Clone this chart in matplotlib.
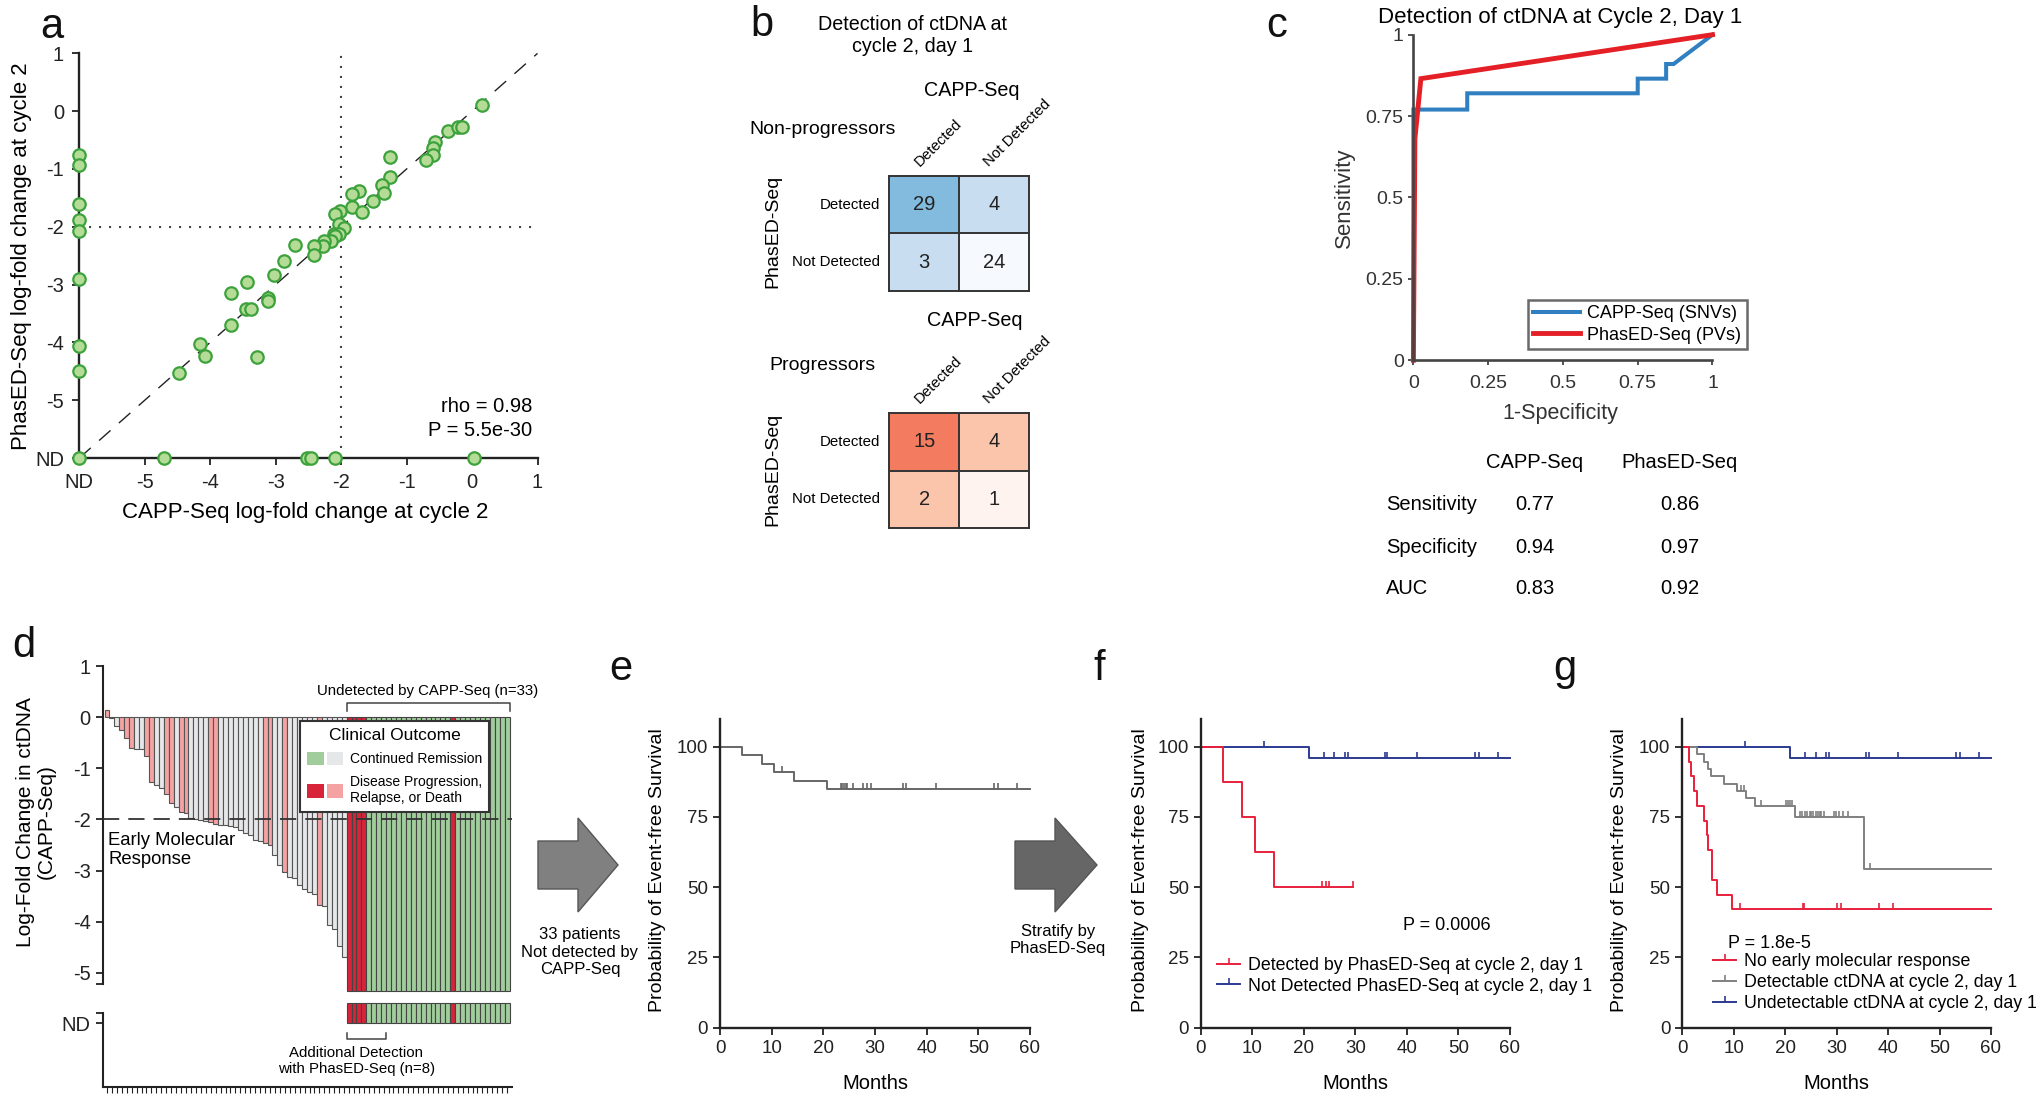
import numpy as np
import matplotlib
matplotlib.use('Agg')
import matplotlib.pyplot as plt
from matplotlib.colors import to_rgb
from matplotlib.lines import Line2D
from matplotlib.patches import Patch, Polygon
from matplotlib.legend_handler import HandlerTuple
from matplotlib.markers import TICKUP

plt.rcParams['font.family'] = ['Liberation Sans', 'DejaVu Sans']
plt.rcParams['axes.edgecolor'] = '#222222'
plt.rcParams['xtick.color'] = '#222222'
plt.rcParams['ytick.color'] = '#222222'

nan = np.nan
# ---------------- data: panel a ----------------
a_capp = [0.15, -0.37, -0.22, -0.16, -0.57, -0.60, -0.60, -0.71, -1.25, -1.25,
          -1.38, -1.34, -1.51, -1.72, -1.84, -1.84, -1.68, -2.01, -2.09, -2.04,
          -1.96, -2.11, -2.03, -2.10, -2.15, -2.26, -2.28, -2.42, -2.42, -2.70,
          -2.87, -3.03, -3.11, -3.11, -3.44, -3.69, -3.45, -3.37, -3.68, -3.28,
          -4.16, -4.08, -4.48,
          nan, nan, nan, nan, nan, nan, nan, nan,
          -4.71, -2.52, -2.46, -2.10, 0.03,
          nan]
a_phased = [0.10, -0.35, -0.27, -0.27, -0.54, -0.63, -0.75, -0.85, -0.80, -1.14,
            -1.28, -1.42, -1.55, -1.38, -1.43, -1.65, -1.74, -1.73, -1.77, -1.96,
            -2.02, -2.12, -2.13, -2.16, -2.24, -2.25, -2.33, -2.33, -2.49, -2.31,
            -2.60, -2.84, -3.24, -3.28, -2.96, -3.15, -3.42, -3.42, -3.70, -4.26,
            -4.03, -4.24, -4.53,
            -0.75, -0.93, -1.61, -1.88, -2.08, -2.91, -4.07, -4.50,
            nan, nan, nan, nan, nan,
            nan]
a_ticklabels = ['ND', '-5', '-4', '-3', '-2', '-1', '0', '1']
a_rho_text = 'rho = 0.98'
a_p_text = 'P = 5.5e-30'

# ---------------- data: panel b ----------------
b_labels = ['Detected', 'Not Detected']
b_nonprog = [[29, 4], [3, 24]]
b_prog = [[15, 4], [2, 1]]

# ---------------- data: panel c ----------------
c_capp_fpr = [0, 0, 0.18, 0.18, 0.75, 0.75, 0.845, 0.845, 0.87, 1.0]
c_capp_tpr = [0, 0.77, 0.77, 0.82, 0.82, 0.865, 0.865, 0.91, 0.91, 1.0]
c_phased_fpr = [0, 0.005, 0.025, 1.0]
c_phased_tpr = [0, 0.68, 0.865, 1.0]
c_rows = ['Sensitivity', 'Specificity', 'AUC']
c_capp_stats = [0.77, 0.94, 0.83]
c_phased_stats = [0.86, 0.97, 0.92]

# ---------------- data: panel d ----------------
d_capp_logfc = [0.14, -0.02, -0.18, -0.25, -0.40, -0.60, -0.62, -0.63, -0.75, -1.27,
                -1.33, -1.39, -1.50, -1.68, -1.75, -1.85, -1.87, -1.98, -2.00, -2.02,
                -2.04, -2.06, -2.09, -2.10, -2.11, -2.12, -2.14, -2.20, -2.26, -2.30,
                -2.40, -2.42, -2.46, -2.50, -2.70, -2.90, -3.03, -3.12, -3.14, -3.28,
                -3.36, -3.42, -3.46, -3.68, -3.70, -4.07, -4.15, -4.47, -4.70]
d_det_event = [1, 0, 0, 1, 1, 1, 0, 0, 1, 1,
               0, 0, 1, 1, 0, 1, 1, 0, 0, 0,
               0, 1, 1, 0, 0, 0, 0, 0, 0, 0,
               0, 0, 1, 1, 0, 0, 1, 0, 0, 0,
               0, 0, 0, 1, 0, 0, 0, 0, 0]
d_und_event = [1, 1, 1, 1] + [0] * 17 + [1] + [0] * 11
d_n_additional = 8
d_threshold = -2

# ---------------- data: KM panels ----------------
e_times = [0, 4.2, 8.1, 10.5, 14.3, 20.8]
e_surv = [100, 96.97, 93.94, 90.91, 87.88, 84.85]
e_cens = [12.0, 23.4, 23.7, 24.0, 24.3, 24.6, 25.7, 27.7, 28.4, 29.2, 35.5, 36.0,
          41.8, 53.0, 53.9, 57.5]

f_red_times = [0, 4.25, 8.1, 10.5, 14.3]
f_red_surv = [100, 87.5, 75, 62.5, 50]
f_red_end = 29.5
f_red_cens = [23.6, 24.3, 24.8, 29.5]
blue_times = [0, 21.0]
blue_surv = [100, 96.0]
blue_cens = [12.2, 23.9, 25.9, 27.9, 28.5, 35.7, 36.2, 42.0, 53.2, 54.0, 57.7]

g_red_times = [0, 1.35, 1.6, 2.3, 2.8, 4.3, 4.75, 4.9, 5.85, 6.7, 9.6]
g_red_surv = [100, 94.7, 89.5, 84.2, 78.9, 73.7, 68.4, 63.2, 52.6, 47.4, 42.1]
g_red_cens = [11.3, 23.5, 23.7, 30.0, 30.8, 38.2, 40.9]
g_gray_times = [0, 2.8, 4.3, 5.05, 5.5, 8.1, 10.6, 12.3, 14.1, 21.9, 35.3]
g_gray_surv = [100, 97.4, 94.7, 92.1, 89.5, 86.8, 84.2, 81.6, 78.9, 75.1, 56.3]
g_gray_cens = [11.5, 12.0, 15.2, 20.1, 20.5, 20.9, 21.4, 22.8, 23.3, 23.8, 24.3,
               24.8, 25.1, 25.5, 26.0, 26.4, 26.7, 27.0, 27.5, 29.4, 29.9, 30.4,
               31.2, 32.3, 36.4]
km_end = 60

# ---------------- figure helpers ----------------
W, H = 2040, 1097
fig = plt.figure(figsize=(W / 100, H / 100), dpi=100)


def rect(x0, y0, x1, y1):
    return [x0 / W, 1 - y1 / H, (x1 - x0) / W, (y1 - y0) / H]


def ftext(x, y, s, **kw):
    return fig.text(x / W, 1 - y / H, s, **kw)


def lr_spines(ax, lw=1.5):
    for s in ['top', 'right']:
        ax.spines[s].set_visible(False)
    for s in ['left', 'bottom']:
        ax.spines[s].set_linewidth(lw)


def center_labels(ax, xl, yl):
    ax.xaxis.set_label_coords(*xl)
    ax.yaxis.set_label_coords(*yl)
    ax.xaxis.label.set_va('center')
    ax.yaxis.label.set_va('center')


# panel letters
for lab, x, y in [('a', 40, 38), ('b', 750, 36), ('c', 1266, 37), ('d', 12, 657),
                  ('e', 609, 680), ('f', 1093, 680), ('g', 1553, 680)]:
    ftext(x, y, lab, fontsize=30, va='baseline', ha='left', color='#111')

# ================= panel a =================
ND = -6
axa = fig.add_axes(rect(79.3, 53.4, 537.5, 458))
xa = np.where(np.isnan(a_capp), ND, a_capp)
ya = np.where(np.isnan(a_phased), ND, a_phased)
axa.axline((0, 0), slope=1, color='#222', lw=1.0, dashes=(11, 8), zorder=1)
axa.axvline(d_threshold, color='#444', lw=1.5, ls=(0, (1, 3.8)), zorder=1)
axa.axhline(d_threshold, color='#444', lw=1.5, ls=(0, (1, 3.8)), zorder=1)
axa.scatter(xa, ya, s=80, facecolor='#b5dc97', edgecolor='#3ca23c', lw=1.6,
            zorder=3, clip_on=False)
axa.set_xlim(ND, 1)
axa.set_ylim(ND, 1)
ticks = np.arange(ND, 2)
axa.set_xticks(ticks)
axa.set_xticklabels(a_ticklabels)
axa.set_yticks(ticks)
axa.set_yticklabels(a_ticklabels)
lr_spines(axa, 1.7)
axa.tick_params(labelsize=14.5, length=5, width=1.3, direction='out', pad=6)
axa.set_xlabel('CAPP-Seq log-fold change at cycle 2', fontsize=16)
axa.set_ylabel('PhasED-Seq log-fold change at cycle 2', fontsize=16)
center_labels(axa, (0.493, -0.134), (-0.126, 0.50))
ftext(532, 406, a_rho_text, ha='right', va='center', fontsize=14.5)
ftext(532, 430, a_p_text, ha='right', va='center', fontsize=14.5)

# ================= panel b =================
blue_cols = [['#82bbdd', '#c8ddf0'], ['#c8ddf0', '#f6fafe']]
red_cols = [['#f37c60', '#fbc5ac'], ['#fbc5ac', '#fef3ee']]


def heat(r, counts, cols):
    ax = fig.add_axes(r)
    rgb = np.array([[to_rgb(c) for c in row] for row in cols])
    ax.imshow(rgb, aspect='auto', extent=(-0.5, 1.5, 1.5, -0.5))
    for i in range(2):
        for j in range(2):
            ax.text(j, i, str(counts[i][j]), ha='center', va='center',
                    fontsize=14.5, color='#222')
    ax.axhline(0.5, color='#333', lw=1.4)
    ax.axvline(0.5, color='#333', lw=1.4)
    for s in ax.spines.values():
        s.set_color('#333')
        s.set_linewidth(1.4)
    ax.set_xticks([])
    ax.set_yticks([])
    for j, lab in enumerate(b_labels):
        ax.text(j - 0.07, -0.655, lab, rotation=45, rotation_mode='anchor',
                ha='left', va='baseline', fontsize=10.8, clip_on=False)
    for i, lab in enumerate(b_labels):
        ax.text(-0.633, i, lab, ha='right', va='center', fontsize=10.8, clip_on=False)
    return ax


heat(rect(889.3, 175.9, 1029.3, 290.7), b_nonprog, blue_cols)
heat(rect(889.3, 412.8, 1029.3, 528.3), b_prog, red_cols)
ftext(913, 36, 'Detection of ctDNA at\ncycle 2, day 1', ha='center', va='center',
      fontsize=14.2, linespacing=1.2)
ftext(972, 90, 'CAPP-Seq', ha='center', va='center', fontsize=14.2)
ftext(823, 129, 'Non-progressors', ha='center', va='center', fontsize=14)
ftext(773, 231, 'PhasED-Seq', ha='center', va='center', fontsize=14, rotation=90)
ftext(975, 321, 'CAPP-Seq', ha='center', va='center', fontsize=14.2)
ftext(822, 365, 'Progressors', ha='center', va='center', fontsize=14)
ftext(773, 469, 'PhasED-Seq', ha='center', va='center', fontsize=14, rotation=90)

# ================= panel c =================
axc = fig.add_axes(rect(1413.4, 34.7, 1712.5, 360.2))
axc.plot(c_capp_fpr, c_capp_tpr, color='#2f7fc1', lw=2.9, clip_on=False,
         label='CAPP-Seq (SNVs)', solid_joinstyle='miter')
axc.plot(c_phased_fpr, c_phased_tpr, color='#e41f26', lw=3.5, clip_on=False,
         label='PhasED-Seq (PVs)', solid_joinstyle='miter')
axc.set_xlim(0, 1)
axc.set_ylim(0, 1)
cticks = [0, 0.25, 0.5, 0.75, 1]
clabs = ['0', '0.25', '0.5', '0.75', '1']
axc.set_xticks(cticks)
axc.set_xticklabels(clabs)
axc.set_yticks(cticks)
axc.set_yticklabels(clabs)
lr_spines(axc, 1.9)
axc.spines['left'].set_color('#444')
axc.spines['bottom'].set_color('#444')
axc.tick_params(labelsize=14, length=3.5, width=1.2, direction='out', colors='#333')
axc.tick_params(axis='x', pad=7)
axc.set_xlabel('1-Specificity', fontsize=15.5, color='#333')
axc.set_ylabel('Sensitivity', fontsize=16, color='#333')
center_labels(axc, (0.49, -0.163), (-0.23, 0.5))
legc = axc.legend(loc='lower left', bbox_to_anchor=(0.382, 0.034), borderaxespad=0,
                  fontsize=13, frameon=True, fancybox=False, edgecolor='#444',
                  handlelength=2.6, handletextpad=0.4, borderpad=0.3,
                  labelspacing=0.25)
legc.get_frame().set_linewidth(1.8)
ftext(1560, 17, 'Detection of ctDNA at Cycle 2, Day 1', ha='center', va='center',
      fontsize=16)
ftext(1535, 462, 'CAPP-Seq', ha='center', va='center', fontsize=14.5)
ftext(1680, 462, 'PhasED-Seq', ha='center', va='center', fontsize=14.5)
for k, (lab, v1, v2) in enumerate(zip(c_rows, c_capp_stats, c_phased_stats)):
    yy = 505 + k * 42
    ftext(1386, yy, lab, ha='left', va='center', fontsize=14.5)
    ftext(1535, yy, '%.2f' % v1, ha='center', va='center', fontsize=14.5)
    ftext(1680, yy, '%.2f' % v2, ha='center', va='center', fontsize=14.5)

# ================= panel d =================
col_det_event = '#f5a2a2'
col_det_none = '#e6e7e9'
col_und_event = '#d72438'
col_und_none = '#a0cd9b'
ND_BAR = -5.35
n_det = len(d_capp_logfc)
n_und = len(d_und_event)
n_tot = n_det + n_und
pos_det = np.arange(n_det)
pos_und = np.arange(n_det, n_tot)
XL = (-0.885, 82.07)

axd = fig.add_axes(rect(102.6, 666.2, 512.4, 993.1))
axd.bar(pos_det, d_capp_logfc, width=1.0,
        color=[col_det_event if e else col_det_none for e in d_det_event],
        edgecolor='#555', lw=0.8, zorder=2)
und_cols = [col_und_event if e else col_und_none for e in d_und_event]
axd.bar(pos_und, [ND_BAR] * n_und, width=1.0, color=und_cols,
        edgecolor='#444', lw=0.8, zorder=2)
axd.axhline(d_threshold, color='#333', lw=1.3, dashes=(9, 5), zorder=4)
axd.set_xlim(*XL)
axd.set_ylim(-5.4, 1.0)
for s in ['top', 'right', 'bottom']:
    axd.spines[s].set_visible(False)
axd.spines['left'].set_linewidth(1.5)
axd.spines['left'].set_bounds(-5.23, 1)
axd.set_xticks([])
axd.set_yticks([1, 0, -1, -2, -3, -4, -5, -5.23])
axd.set_yticklabels(['1', '0', '-1', '-2', '-3', '-4', '-5', ''])
axd.tick_params(labelsize=14.5, length=5, width=1.3, direction='out')
bx0, bx1 = n_det - 0.5, n_tot - 0.5
axd.plot([bx0, bx0, bx1, bx1], [0.13, 0.274, 0.274, 0.13], color='#444', lw=1.1,
         clip_on=False)
axd.text((bx0 + bx1) / 2, 0.52, 'Undetected by CAPP-Seq (n=%d)' % n_und,
         ha='center', va='center', fontsize=10.8, clip_on=False)
axd.text(0.3, -2.24, 'Early Molecular\nResponse', ha='left', va='top',
         fontsize=13.3, linespacing=1.15)
hd = [(Patch(fc=col_und_none, ec='none'), Patch(fc=col_det_none, ec='none')),
      (Patch(fc=col_und_event, ec='none'), Patch(fc=col_det_event, ec='none'))]
legd = axd.legend(hd, ['Continued Remission', 'Disease Progression,\nRelapse, or Death'],
                  handler_map={tuple: HandlerTuple(ndivide=None, pad=0.25)},
                  title='Clinical Outcome', title_fontsize=12.5, fontsize=10,
                  loc='upper left', bbox_to_anchor=(300.3 / W, 1 - 720.7 / H),
                  bbox_transform=fig.transFigure, borderaxespad=0,
                  frameon=True, fancybox=False, edgecolor='#333', framealpha=1,
                  handlelength=2.6, handleheight=1.15, handletextpad=0.5,
                  borderpad=0.5, labelspacing=0.65)
legd.get_frame().set_linewidth(1.5)
legd.set_zorder(6)
ftext(36, 822, 'Log-Fold Change in ctDNA\n(CAPP-Seq)', rotation=90, ha='center',
      va='center', fontsize=15, linespacing=1.12)

axd2 = fig.add_axes(rect(102.6, 1000, 512.4, 1087))
ND_LEVEL, ND_TOP = 0.732, 0.962
axd2.bar(pos_und, [ND_TOP - ND_LEVEL] * n_und, bottom=ND_LEVEL, width=1.0,
         color=und_cols, edgecolor='#444', lw=0.8)
axd2.set_xlim(*XL)
axd2.set_ylim(0, 1)
for s in ['top', 'right']:
    axd2.spines[s].set_visible(False)
axd2.spines['left'].set_linewidth(1.5)
axd2.spines['bottom'].set_linewidth(1.5)
axd2.spines['left'].set_bounds(0, 0.854)
axd2.set_yticks([0.854, ND_LEVEL])
axd2.set_yticklabels(['', 'ND'])
axd2.set_xticks(np.arange(n_tot))
axd2.set_xticklabels([])
axd2.tick_params(axis='y', labelsize=14.5, length=5, width=1.3, direction='out')
axd2.tick_params(axis='x', length=4, width=0.8, direction='out')
ax0, ax1 = n_det - 0.5, n_det - 0.5 + d_n_additional
axd2.plot([ax0, ax0, ax1, ax1], [0.62, 0.552, 0.552, 0.62], color='#444', lw=1.1,
          clip_on=False)
axd2.text(50.5, 0.3, 'Additional Detection\nwith PhasED-Seq (n=%d)' % d_n_additional,
          ha='center', va='center', fontsize=10.8, linespacing=1.15, clip_on=False)

# ================= KM panels =================


def km(ax, times, surv, end, cens, color, lw=1.4):
    t = np.r_[times, end]
    s = np.r_[surv, surv[-1]]
    ax.step(t, s, where='post', color=color, lw=lw, clip_on=False)
    idx = np.searchsorted(times, cens, side='right') - 1
    ax.plot(cens, np.asarray(surv)[idx], ls='none', marker=TICKUP, ms=4.5,
            mew=1.2, color=color, clip_on=False)


def km_axes(r, ylab_x):
    ax = fig.add_axes(r)
    ax.set_xlim(0, 60)
    ax.set_ylim(0, 110)
    ax.set_xticks(np.arange(0, 61, 10))
    ax.set_yticks([0, 25, 50, 75, 100])
    lr_spines(ax, 1.7)
    ax.tick_params(labelsize=13.5, length=5, width=1.3, direction='out')
    ax.set_xlabel('Months', fontsize=14.5)
    ax.set_ylabel('Probability of Event-free Survival', fontsize=14)
    center_labels(ax, (0.5, -0.179), (ylab_x, 0.51))
    return ax


C_RED = '#e8203c'
C_BLUE = '#2b3990'
C_GRAY = '#808080'

axe = km_axes(rect(720, 718.6, 1030, 1027.7), -0.2)
km(axe, e_times, e_surv, km_end, e_cens, '#666666')

axf = km_axes(rect(1200.7, 718.6, 1510, 1027.7), -0.196)
km(axf, blue_times, blue_surv, km_end, blue_cens, C_BLUE)
km(axf, f_red_times, f_red_surv, f_red_end, f_red_cens, C_RED)
ftext(1447, 926, 'P = 0.0006', ha='center', va='center', fontsize=13)
hf = [Line2D([], [], color=C_RED, lw=1.4, marker=TICKUP, ms=4.5, mew=1.2),
      Line2D([], [], color=C_BLUE, lw=1.4, marker=TICKUP, ms=4.5, mew=1.2)]
fig.legend(hf, ['Detected by PhasED-Seq at cycle 2, day 1',
                'Not Detected PhasED-Seq at cycle 2, day 1'],
           loc='upper left', bbox_to_anchor=(1217 / W, 1 - 957 / H), borderaxespad=0,
           borderpad=0, frameon=False, fontsize=12.8, handlelength=1.3,
           handletextpad=0.45, labelspacing=0.2, numpoints=1)

axg = km_axes(rect(1682.3, 718.6, 1991, 1027.7), -0.202)
km(axg, blue_times, blue_surv, km_end, blue_cens, C_BLUE)
km(axg, g_gray_times, g_gray_surv, km_end, g_gray_cens, C_GRAY)
km(axg, g_red_times, g_red_surv, km_end, g_red_cens, C_RED)
ftext(1728, 944, 'P = 1.8e-5', ha='left', va='center', fontsize=13)
hg = [Line2D([], [], color=C_RED, lw=1.4, marker=TICKUP, ms=4.5, mew=1.2),
      Line2D([], [], color=C_GRAY, lw=1.4, marker=TICKUP, ms=4.5, mew=1.2),
      Line2D([], [], color=C_BLUE, lw=1.4, marker=TICKUP, ms=4.5, mew=1.2)]
fig.legend(hg, ['No early molecular response',
                'Detectable ctDNA at cycle 2, day 1',
                'Undetectable ctDNA at cycle 2, day 1'],
           loc='upper left', bbox_to_anchor=(1713 / W, 1 - 953 / H), borderaxespad=0,
           borderpad=0, frameon=False, fontsize=12.8, handlelength=1.3,
           handletextpad=0.45, labelspacing=0.22, numpoints=1)

# ================= block arrows =================


def block_arrow(x0, xh, xt, color):
    ys_top, ys_bot, yh_top, yh_bot = 841, 889, 818, 912
    ym = (ys_top + ys_bot) / 2
    pts = [(x0, ys_top), (xh, ys_top), (xh, yh_top), (xt, ym), (xh, yh_bot),
           (xh, ys_bot), (x0, ys_bot)]
    pts = [(x / W, 1 - y / H) for x, y in pts]
    fig.add_artist(Polygon(pts, closed=True, transform=fig.transFigure,
                           facecolor=color, edgecolor='#555', lw=1.0))


block_arrow(538, 578, 618, '#808080')
block_arrow(1015, 1055, 1097, '#666666')
ftext(580, 952, '33 patients\nNot detected by\nCAPP-Seq', ha='center', va='center',
      fontsize=12, linespacing=1.2)
ftext(1058, 940, 'Stratify by\nPhasED-Seq', ha='center', va='center',
      fontsize=12, linespacing=1.2)

fig.savefig('out.png', dpi=100)
